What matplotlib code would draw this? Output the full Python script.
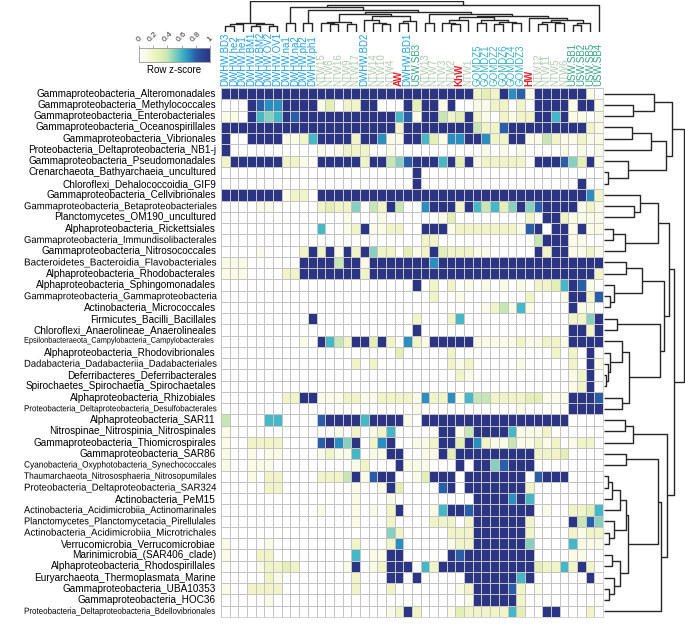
import numpy as np
import matplotlib
matplotlib.use('Agg')
import matplotlib.pyplot as plt
from matplotlib import patheffects
from matplotlib.colors import LinearSegmentedColormap
from matplotlib.transforms import Affine2D

plt.rcParams['font.family'] = ['Liberation Sans', 'DejaVu Sans']

# ---- data ---------------------------------------------------------------
col_labels = ['DWHW.BD3', 'DWHW.he2', 'DWHW.he1', 'DWHW.BM1', 'DWHW.BM2', 'DWHW.OV2',
              'DWHW.OV1', 'DWHW.na1', 'DWHW.na2', 'DWHW.ph2', 'DWHW.ph1',
              'NTW15', 'NTW8', 'NTW16', 'NTW9', 'NTW17', 'DWHW.BD2', 'NTW14', 'NTW10',
              'NTW4', 'AW', 'DWHW.BD1', 'USW.SB3', 'NTW13', 'NTW7', 'NTW3', 'NTW2',
              'KhW', 'NTW1', 'GOMDZ5', 'GOMDZ1', 'GOMDZ2', 'GOMDZ6', 'GOMDZ4', 'GOMDZ3',
              'HW', 'NTW12', 'NTW11', 'NTW5', 'NTW6', 'USW.SB1', 'USW.SB2', 'USW.SB5',
              'USW.SB4']

row_labels = ['Gammaproteobacteria_Alteromonadales', 'Gammaproteobacteria_Methylococcales',
              'Gammaproteobacteria_Enterobacteriales', 'Gammaproteobacteria_Oceanospirillales',
              'Gammaproteobacteria_Vibrionales', 'Proteobacteria_Deltaproteobacteria_NB1-j',
              'Gammaproteobacteria_Pseudomonadales', 'Crenarchaeota_Bathyarchaeia_uncultured',
              'Chloroflexi_Dehalococcoidia_GIF9', 'Gammaproteobacteria_Cellvibrionales',
              'Gammaproteobacteria_Betaproteobacteriales', 'Planctomycetes_OM190_uncultured',
              'Alphaproteobacteria_Rickettsiales', 'Gammaproteobacteria_Immundisolibacterales',
              'Gammaproteobacteria_Nitrosococcales', 'Bacteroidetes_Bacteroidia_Flavobacteriales',
              'Alphaproteobacteria_Rhodobacterales', 'Alphaproteobacteria_Sphingomonadales',
              'Gammaproteobacteria_Gammaproteobacteria', 'Actinobacteria_Micrococcales',
              'Firmicutes_Bacilli_Bacillales', 'Chloroflexi_Anaerolineae_Anaerolineales',
              'Epsilonbacteraeota_Campylobacteria_Campylobacterales',
              'Alphaproteobacteria_Rhodovibrionales', 'Dadabacteria_Dadabacteriia_Dadabacteriales',
              'Deferribacteres_Deferribacterales', 'Spirochaetes_Spirochaetia_Spirochaetales',
              'Alphaproteobacteria_Rhizobiales', 'Proteobacteria_Deltaproteobacteria_Desulfobacterales',
              'Alphaproteobacteria_SAR11', 'Nitrospinae_Nitrospinia_Nitrospinales',
              'Gammaproteobacteria_Thiomicrospirales', 'Gammaproteobacteria_SAR86',
              'Cyanobacteria_Oxyphotobacteria_Synechococcales',
              'Thaumarchaeota_Nitrososphaeria_Nitrosopumilales',
              'Proteobacteria_Deltaproteobacteria_SAR324', 'Actinobacteria_PeM15',
              'Actinobacteria_Acidimicrobiia_Actinomarinales',
              'Planctomycetes_Planctomycetacia_Pirellulales',
              'Actinobacteria_Acidimicrobiia_Microtrichales', 'Verrucomicrobia_Verrucomicrobiae',
              'Marinimicrobia_(SAR406_clade)', 'Alphaproteobacteria_Rhodospirillales',
              'Euryarchaeota_Thermoplasmata_Marine', 'Gammaproteobacteria_UBA10353',
              'Gammaproteobacteria_HOC36', 'Proteobacteria_Deltaproteobacteria_Bdellovibrionales']

# row z-score per cell, one char per column: digit = tenths, X = 1.0
z_rows = [
    "XXXXXXXXXXX XXXXX XXXXXXX XXXXX X 232 X78 1 XXXXXX10",
    "000X877XXXX 13022 XX000X3 XX1X0 0 112 202 0 XXXX1XX1",
    "110X656X8XX XXXXX XXXX681 XX423 X 210 212 2 XX6X1101",
    "XXXXXXXXXXX XXXXX XXXX2XX XXXXX X 422 8XX X XXXXXX21",
    "X00XXXX1126 XXXX2 XX711XX 63177 X X72 2XX 1 14211211",
    "X0000000000 10122 2001000 00000 0 010 101 0 00010101",
    "2XXXXXX2210 XXXXX 2XX458X XX6X3 X 122 222 0 XXX853X1",
    "00000000000 00000 000000X 00000 0 000 000 0 00000000",
    "00000000000 00000 000000X 00000 0 000 000 0 00000X00",
    "XXXXXXX1220 XXXXX XXXXXXX XXXXX X XXX XXX X XXXXXX72",
    "00001100000 23225 042X400 7XXX2 X 646 35X 5 8XXXX121",
    "00000000000 00010 0010000 00130 0 000 000 2 0XX21111",
    "00000000000 60012 X112200 XXX12 2 222 221 8 X0XX1X11",
    "00000000000 00000 0000000 22000 0 000 000 0 4XXX1100",
    "0000100002X 2X1X2 X522031 2X322 2 110 000 0 X2XX1121",
    "111000000XX XX4XX 1XXXXXX X7XXX X XXX XXX X XXXXXXXX",
    "111000022XX XXXXX 2XXXXXX XXXXX X XXX XXX X XXXXXXX2",
    "00000000000 00000 000000X 02020 1 010 101 0 2236X810",
    "00000000000 00000 0000000 02001 0 000 000 2 0001XX28",
    "00000000000 00000 0000000 00000 0 012 416 1 0000X110",
    "0000000000X 00000 0000002 00026 0 000 000 0 0000225X",
    "00000000000 00000 000000X 00000 0 000 000 0 0000XX2X",
    "00000000010 X642X X3X2072 1XXXX X 111 112 1 1221XXXX",
    "00000000000 00000 0000300 00020 0 000 000 0 002020X0",
    "00000000000 00002 0200000 00021 2 000 001 0 000020X1",
    "00000000000 00000 0000000 00002 1 000 000 0 000012X0",
    "00000000000 00000 0000000 00000 0 000 000 0 000012X0",
    "000000022XX 11122 1122221 72271 6 442 222 3 3111XXX8",
    "00000000000 00000 0000001 00000 0 000 001 0 0000XXXX",
    "40000660000 8XXXX 6XXXX10 XXXXX X XXX XXX X XXXX0000",
    "10000000000 00102 0126000 00XX1 4 XXX X61 1 12000000",
    "10022220000 8X75X 027X001 12XX3 X 721 141 1 21201220",
    "10010110000 12116 011XX00 11X3X X XXX XXX X 22230000",
    "10011100000 00001 2000X11 1000X 0 XX5 8XX X 00000000",
    "00010220000 2224X 18XX001 3XXX0 X XXX XXX 0 8XXX0000",
    "00000220000 00001 001X300 008X0 X XXX XXX 2 00000000",
    "00000000000 00001 0001000 00000 0 XXX X7X 6 00000000",
    "00000000000 10001 0102X00 016XX 8 XXX XXX X 01002236",
    "00000000000 00001 0002000 02220 2 XXX XXX 2 0000X485",
    "00000000000 00000 0005200 00022 2 XXX XXX 2 00002122",
    "10000100000 00002 0002700 00012 2 XXX XXX 5 00006111",
    "10002200000 00006 011XX00 000X8 X XXX XXX X 00001100",
    "00001223200 0001X 012XXX0 62XXX X XXX XXX X 32262X20",
    "00000210000 00002 000XX0X 00000 X XXX XX6 X 000000X0",
    "10022220000 00002 0002000 00001 2 XXX X82 0 10000000",
    "00000100000 00000 0000000 00000 1 XXX XX2 0 00000000",
    "00000000000 00000 00012X2 00013 2 222 263 0 0XX00020",
]

# dendrograms: (height, left, right), leaves are column / row indices
col_tree = (1.0,
            (0.30, (0.26, (0.20, 0, 1), 2), (0.26, (0.20, 3, 4), (0.18, 5, 6))),
            (0.88,
             (0.80, (0.28, 7, 8),
              (0.72, (0.28, 9, 10),
               (0.66,
                (0.60,
                 (0.34, (0.30, 11, (0.26, 12, 13)), (0.27, 14, 15)),
                 (0.52, (0.40, 16, (0.30, 17, (0.25, 18, 19))),
                  (0.35, (0.28, 20, 21), 22))),
                (0.60, (0.30, 23, 24),
                 (0.53,
                  (0.50, (0.38, (0.30, 25, (0.26, 26, 27)), 28),
                   (0.40, (0.30, 29, 30), (0.34, (0.26, 31, 32), (0.28, 33, 34)))),
                  (0.47, 35, (0.40, (0.32, (0.26, 36, 37), (0.28, 38, 39)),
                              (0.30, (0.24, 40, 41), 42)))))))),
             43))

row_tree = (1.0,
            (0.85,
             (0.625, 0, (0.36, 1, 2)),
             (0.77, (0.58, (0.35, 3, 4), 5), (0.30, 6, (0.05, 7, 8)))),
            (0.875,
             (0.81,
              (0.67, (0.45, 9, (0.375, 10, 11)), (0.26, (0.11, 12, 13), 14)),
              (0.75,
               (0.48, (0.27, 15, 16), (0.125, 17, (0.08, 18, 19))),
               (0.70, (0.16, 20, 21),
                (0.31, (0.23, 22, (0.07, 23, (0.05, 24, (0.03, 25, 26)))),
                 (0.22, 27, 28))))),
             (0.78,
              (0.36, (0.26, 29, 30), 31),
              (0.71,
               (0.67, (0.28, 32, 33),
                (0.30,
                 (0.27, (0.20, (0.10, (0.05, 34, 35), 36), 37), (0.12, 38, (0.06, 39, 40))),
                 (0.20, (0.10, 41, 42), (0.12, 43, (0.06, 44, 45))))),
               46))))

z = np.array([[1.0 if ch == 'X' else int(ch) / 10 for ch in s.replace(' ', '')]
              for s in z_rows])

cmap = LinearSegmentedColormap.from_list('zs', [
    (0.0, '#ffffff'), (0.1, '#fafbe6'), (0.2, '#f1f4c6'), (0.3, '#e3efb4'),
    (0.4, '#c6e6b6'), (0.5, '#88cfbe'), (0.6, '#45b7c5'), (0.7, '#2b8fc0'),
    (0.8, '#2a5ea8'), (0.9, '#2b4595'), (1.0, '#2b3584')])


class Squeeze(patheffects.AbstractPathEffect):
    """Draw text scaled by (sx, sy) about the display point (x0, y0)."""

    def __init__(self, sx, sy, x0, y0):
        super().__init__()
        self.tr = Affine2D().translate(-x0, -y0).scale(sx, sy).translate(x0, y0)

    def draw_path(self, renderer, gc, tpath, affine, rgbFace=None):
        renderer.draw_path(gc, tpath, affine + self.tr, rgbFace)


def label_style(name):
    if name in ('AW', 'KhW', 'HW'):
        return '#e8202a', 'bold'
    if name.startswith('DWHW'):
        return '#1f9fdc', 'normal'
    if name.startswith('NTW'):
        return '#aecaae', 'normal'
    if name.startswith('GOMDZ'):
        return '#38b2c4', 'normal'
    return '#34a47e', 'normal'


def draw_tree(ax, node, horizontal):
    # returns (leaf position, height) of the node
    if isinstance(node, int):
        return node + 0.5, 0.0
    h, left, right = node
    pl, hl = draw_tree(ax, left, horizontal)
    pr, hr = draw_tree(ax, right, horizontal)
    pos = [pl, pl, pr, pr]
    hts = [hl, h, h, hr]
    if horizontal:
        ax.plot(pos, hts, color='#262626', lw=1.0, solid_capstyle='butt')
    else:
        ax.plot(hts, pos, color='#262626', lw=1.0, solid_capstyle='butt')
    return (pl + pr) / 2, h


W, H = 685, 624
fig = plt.figure(figsize=(W / 100, H / 100), dpi=100)

# heatmap
hx0, hx1, hy0, hy1 = 221, 603, 88, 617
ax = fig.add_axes([hx0 / W, 1 - hy1 / H, (hx1 - hx0) / W, (hy1 - hy0) / H])
nr, nc = z.shape
ax.pcolormesh(np.arange(nc + 1), np.arange(nr + 1), z, cmap=cmap, vmin=0, vmax=1,
              edgecolors='#c4c4c4', linewidth=0.5)
ax.set_xlim(0, nc)
ax.set_ylim(nr, 0)
ax.set_xticks([])
ax.set_yticks([])
for s in ax.spines.values():
    s.set_color('#c4c4c4')
    s.set_linewidth(0.5)

# column labels above the heatmap
for i, lab in enumerate(col_labels):
    c, w = label_style(lab)
    ax.text(i + 0.5, 1.004, lab, transform=ax.get_xaxis_transform(),
            rotation=90, ha='center', va='bottom', fontsize=7,
            color=c, fontweight=w)

# row labels, right aligned next to the heatmap
row_texts = [ax.text(-0.013, j + 0.5, lab, transform=ax.get_yaxis_transform(),
                     ha='right', va='center', fontsize=7.2)
             for j, lab in enumerate(row_labels)]

# column dendrogram
axc = fig.add_axes([hx0 / W, 1 - 32 / H, (hx1 - hx0) / W, 31 / H])
draw_tree(axc, col_tree, True)
axc.set_xlim(0, nc)
axc.set_ylim(0, 1.01)
axc.axis('off')

# row dendrogram
axr = fig.add_axes([(hx1 + 1) / W, 1 - hy1 / H, 81 / W, (hy1 - hy0) / H])
draw_tree(axr, row_tree, False)
axr.set_ylim(nr, 0)
axr.set_xlim(0, 1.01)
axr.axis('off')

# colour key
axk = fig.add_axes([139 / W, 1 - 62 / H, 71 / W, 14 / H])
axk.imshow(np.linspace(0, 1, 256)[None, :], aspect='auto', cmap=cmap,
           extent=[0, 1, 0, 1])
axk.set_yticks([])
axk.xaxis.tick_top()
axk.set_xticks([0, 0.2, 0.4, 0.6, 0.8, 1])
axk.set_xticklabels(['0', '0.2', '0.4', '0.6', '0.8', '1'], rotation=45,
                    fontsize=6, color='#333333')
axk.tick_params(axis='x', length=2, width=0.5, pad=1, color='#888888')
for s in axk.spines.values():
    s.set_color('#999999')
    s.set_linewidth(0.6)
axk.set_xlabel('Row z-score', fontsize=7, labelpad=2)

# long row labels: keep them inside the figure, then squeeze them sideways
fig.canvas.draw()
rend = fig.canvas.get_renderer()
for t in row_texts:
    bb = t.get_window_extent(rend)
    w = bb.width
    if w > 214:
        t.set_fontsize(t.get_fontsize() * 214 / w)
        bb = t.get_window_extent(rend)
        w = bb.width
    if w > 192:
        t.set_path_effects([Squeeze(192 / w, 1, bb.x1, bb.y0)])

fig.savefig('out.png', dpi=100)
